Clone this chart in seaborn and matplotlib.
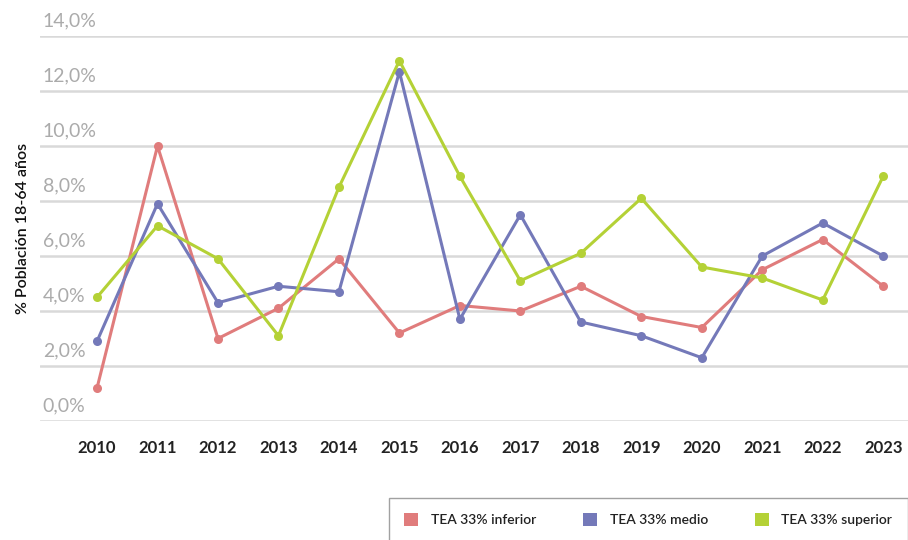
import matplotlib
matplotlib.use("Agg")
import matplotlib.pyplot as plt
import matplotlib.transforms as mtransforms
from matplotlib.patches import Patch
import seaborn as sns
import pandas as pd

# Data
years = ["2010", "2011", "2012", "2013", "2014", "2015", "2016",
         "2017", "2018", "2019", "2020", "2021", "2022", "2023"]
tea_inferior = [1.2, 10.0, 3.0, 4.1, 5.9, 3.2, 4.2, 4.0, 4.9, 3.8, 3.4, 5.5, 6.6, 4.9]
tea_medio = [2.9, 7.9, 4.3, 4.9, 4.7, 12.7, 3.7, 7.5, 3.6, 3.1, 2.3, 6.0, 7.2, 6.0]
tea_superior = [4.5, 7.1, 5.9, 3.1, 8.5, 13.1, 8.9, 5.1, 6.1, 8.1, 5.6, 5.2, 4.4, 8.9]
series_names = ["TEA 33% inferior", "TEA 33% medio", "TEA 33% superior"]
y_ticks = [0, 2, 4, 6, 8, 10, 12, 14]
y_ticklabels = ["0,0%", "2,0%", "4,0%", "6,0%", "8,0%", "10,0%", "12,0%", "14,0%"]

colors = ["#e07c7c", "#7479b9", "#b4d136"]

df = pd.DataFrame({
    "year": years * 3,
    "value": tea_inferior + tea_medio + tea_superior,
    "serie": [series_names[0]] * len(years) + [series_names[1]] * len(years)
             + [series_names[2]] * len(years),
})

sns.set_style("white")
plt.rcParams["font.family"] = ["Lato", "DejaVu Sans"]

fig = plt.figure(figsize=(9.08, 5.40), dpi=100)
ax = fig.add_axes([40 / 908, 1 - 421 / 540, 868 / 908, 385 / 540])

sns.lineplot(data=df, x="year", y="value", hue="serie", palette=colors,
             marker="o", markersize=6.5, markeredgewidth=0, linewidth=2.2,
             sort=False, legend=False, ax=ax)

ax.set_ylim(0, 14)
ax.set_xlim(-0.943, 13.41)
ax.set_yticks(y_ticks)
ax.set_yticklabels(y_ticklabels)
ax.yaxis.grid(True, color="#d9d9d9", linewidth=1.8)
ax.xaxis.grid(False)
for s in ax.spines.values():
    s.set_visible(False)
ax.set_axisbelow(True)

# y tick labels sit above the grid lines, left aligned
ax.tick_params(axis="y", length=0, pad=-2, labelsize=14, labelcolor="#ababab")
offset = mtransforms.ScaledTranslation(0, 5 / 72, fig.dpi_scale_trans)
for lab in ax.get_yticklabels():
    lab.set_horizontalalignment("left")
    lab.set_verticalalignment("bottom")
    lab.set_transform(lab.get_transform() + offset)

ax.tick_params(axis="x", length=0, pad=14, labelsize=12, labelcolor="#222222")
for lab in ax.get_xticklabels():
    lab.set_fontweight("bold")

ax.set_xlabel("")
ax.set_ylabel("% Población 18-64 años", fontsize=11.5, color="#111111",
              fontweight="semibold")
ax.yaxis.set_label_coords(-0.011, 0.5)

handles = [Patch(facecolor=c, edgecolor="none") for c in colors]
leg = fig.legend(handles, series_names, loc="upper left",
                 bbox_to_anchor=(389 / 908, 1 - 498 / 540), ncol=3,
                 frameon=True, fancybox=False, borderaxespad=0,
                 prop={"size": 10, "weight": "semibold"},
                 handlelength=1.0, handleheight=1.0, columnspacing=3.4,
                 handletextpad=0.9, borderpad=1.1)
for t in leg.get_texts():
    t.set_color("#222222")
leg.get_frame().set_edgecolor("#8a8a8a")
leg.get_frame().set_linewidth(1.0)

fig.savefig("out.png", dpi=100)
